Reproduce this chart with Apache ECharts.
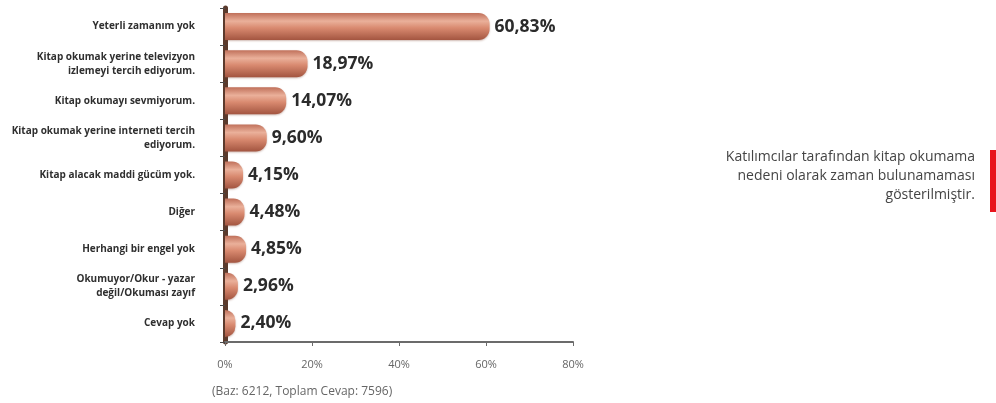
<!DOCTYPE html>
<html>
<head>
<meta charset="utf-8">
<script src="https://cdn.jsdelivr.net/npm/echarts@6/dist/echarts.min.js"></script>
<style>
  html, body { margin: 0; padding: 0; background: #fff; }
  #chart { width: 996px; height: 403px; }
</style>
</head>
<body>
<div id="chart"></div>
<script>
// nedenler (yukaridan asagi)
var categories = [
  'Yeterli zamanım yok',
  'Kitap okumak yerine televizyon\nizlemeyi tercih ediyorum.',
  'Kitap okumayı sevmiyorum.',
  'Kitap okumak yerine interneti tercih\nediyorum.',
  'Kitap alacak maddi gücüm yok.',
  'Diğer',
  'Herhangi bir engel yok',
  'Okumuyor/Okur - yazar\ndeğil/Okuması zayıf',
  'Cevap yok'
];
var values = [60.83, 18.97, 14.07, 9.60, 4.15, 4.48, 4.85, 2.96, 2.40];
var xTicks = [0, 20, 40, 60, 80];
var footnote = '(Baz: 6212, Toplam Cevap: 7596)';
var sideNote = ['Katılımcılar tarafından kitap okumama', 'nedeni olarak zaman bulunamaması', 'gösterilmiştir.'];

var chart = echarts.init(document.getElementById('chart'));

var barColor = new echarts.graphic.LinearGradient(0, 0, 0, 1, [
  { offset: 0, color: '#c0705a' },
  { offset: 0.3, color: '#eab09a' },
  { offset: 0.55, color: '#d98a70' },
  { offset: 1, color: '#a35540' }
]);

var option = {
  backgroundColor: '#ffffff',
  animation: false,
  grid: { left: 225, right: 423, top: 8, bottom: 61 },
  xAxis: {
    type: 'value',
    min: xTicks[0],
    max: xTicks[xTicks.length - 1],
    interval: 20,
    splitLine: { show: false },
    axisLine: { show: true, lineStyle: { color: '#6b6b6b', width: 2 } },
    axisTick: { show: true, length: 4, lineStyle: { color: '#6b6b6b' } },
    axisLabel: {
      margin: 17,
      color: '#666',
      fontFamily: 'Open Sans',
      fontSize: 11,
      formatter: function (v) { return v + '%'; }
    }
  },
  yAxis: {
    type: 'category',
    inverse: true,
    data: categories,
    axisLine: { show: true, lineStyle: { color: '#5a3a2c', width: 5 } },
    axisTick: { show: true, length: 5, lineStyle: { color: '#4a4a4a', width: 1 } },
    axisLabel: {
      margin: 30,
      color: '#2f2f2f',
      fontFamily: 'Open Sans',
      fontWeight: 'bold',
      fontSize: 10,
      lineHeight: 14,
      align: 'right'
    }
  },
  series: [{
    type: 'bar',
    data: values,
    barWidth: 27,
    itemStyle: {
      color: barColor,
      borderRadius: [0, 11, 11, 0],
      shadowColor: 'rgba(120,60,40,0.35)',
      shadowBlur: 2,
      shadowOffsetY: 1
    },
    label: {
      show: true,
      position: 'right',
      distance: 5,
      color: '#2b2b2b',
      fontFamily: 'Open Sans',
      fontWeight: 'bold',
      fontSize: 17.5,
      formatter: function (p) { return p.value.toFixed(2).replace('.', ',') + '%'; }
    }
  }],
  graphic: [
    {
      type: 'text',
      x: 212, y: 386,
      style: { text: footnote, fill: '#666', font: '12px "Open Sans"' }
    },
    {
      type: 'text',
      x: 975, y: 148,
      style: {
        text: sideNote.join('\n'),
        fill: '#444',
        font: '14px "Open Sans"',
        lineHeight: 19,
        align: 'right'
      }
    },
    {
      type: 'rect',
      shape: { x: 990, y: 150, width: 6, height: 62 },
      style: { fill: '#e8141c' }
    }
  ]
};

chart.setOption(option);
</script>
</body>
</html>
